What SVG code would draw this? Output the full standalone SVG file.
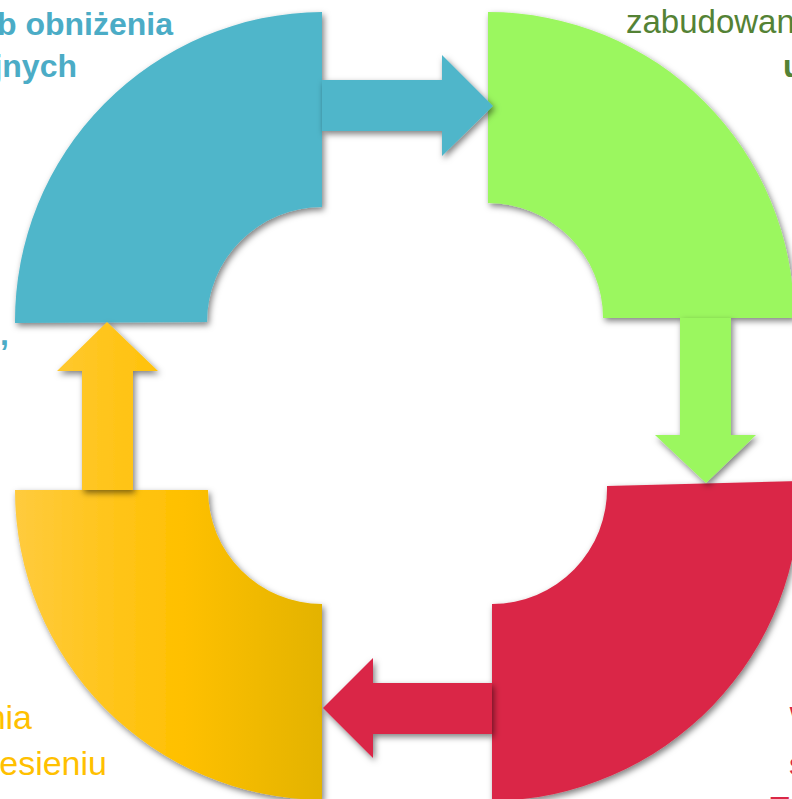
<svg xmlns="http://www.w3.org/2000/svg" width="792" height="799" viewBox="0 0 792 799">
<defs>
<style>
.t{font-family:"Liberation Sans",Arial,sans-serif;font-size:32px}
.b{font-weight:bold}
.blue{fill:#4FB6CA}
.green{fill:#9BF75F}
.red{fill:#DA2746}
.yel{fill:url(#yg)}
.tblue{fill:#4BACC6}
.tgreen{fill:#548235}
.tyel{fill:#FFC000}
.tred{fill:#DA2746}
</style>
<linearGradient id="yg" gradientUnits="userSpaceOnUse" x1="14" y1="0" x2="322" y2="0">
<stop offset="0" stop-color="#FFCB3E"/>
<stop offset="0.55" stop-color="#FFC000"/>
<stop offset="1" stop-color="#E3B300"/>
</linearGradient>
<filter id="sh" x="-10%" y="-10%" width="130%" height="130%">
<feDropShadow dx="2" dy="3" stdDeviation="3" flood-color="#000" flood-opacity="0.5"/>
</filter>
</defs>
<rect width="792" height="799" fill="#fff"/>

<g id="text-blue" class="t b tblue">
<text x="173" y="35" text-anchor="end">b obniżenia</text>
<text x="77" y="77" text-anchor="end">jnych</text>
<text x="9" y="345" text-anchor="end">,</text>
</g>
<g id="text-green" class="t tgreen">
<text x="626" y="33" style="font-size:33px">zabudowan</text>
<text x="783" y="77" class="b">u</text>
</g>
<g id="text-yellow" class="t tyel" style="font-size:34px">
<text x="32" y="729" text-anchor="end">nia</text>
<text x="107" y="775" text-anchor="end">esieniu</text>
</g>
<g id="text-red" class="t tred">
<text x="789.5" y="729">W</text>
<text x="789" y="775">s</text>
<text x="770" y="819">T</text>
</g>

<g id="node-blue" filter="url(#sh)">
<path class="blue" d="M15,323 A309 309 0 0 1 322,12 L322,207 A115 115 0 0 0 207,322 Z"/>
</g>
<g id="node-green" filter="url(#sh)">
<path class="green" d="M488,12 A306 306 0 0 1 794,318 L603,318 A115 115 0 0 0 488,203 Z"/>
</g>
<g id="node-red" filter="url(#sh)">
<path class="red" d="M607,486 L800,481 A312 312 0 0 1 492,801 L492,604 A115 115 0 0 0 607,486 Z"/>
</g>
<g id="node-yellow" filter="url(#sh)">
<path class="yel" d="M15,490 L208,490 A114 114 0 0 0 322,604 L322,800 A310 310 0 0 1 15,490 Z"/>
</g>

<g id="connectors" filter="url(#sh)">
<polygon class="blue" points="322,80 442,80 442,55 493,106 442,156 442,131 322,131"/>
<polygon class="green" points="680,318 680,435 655,435 706,483 756,435 731,435 731,318"/>
<polygon class="red" points="492,683 373,683 373,658 323,708 373,758 373,734 492,734"/>
<polygon class="yel" points="82,490 82,371 57,371 107,322 158,371 133,371 133,490"/>
</g>
</svg>
